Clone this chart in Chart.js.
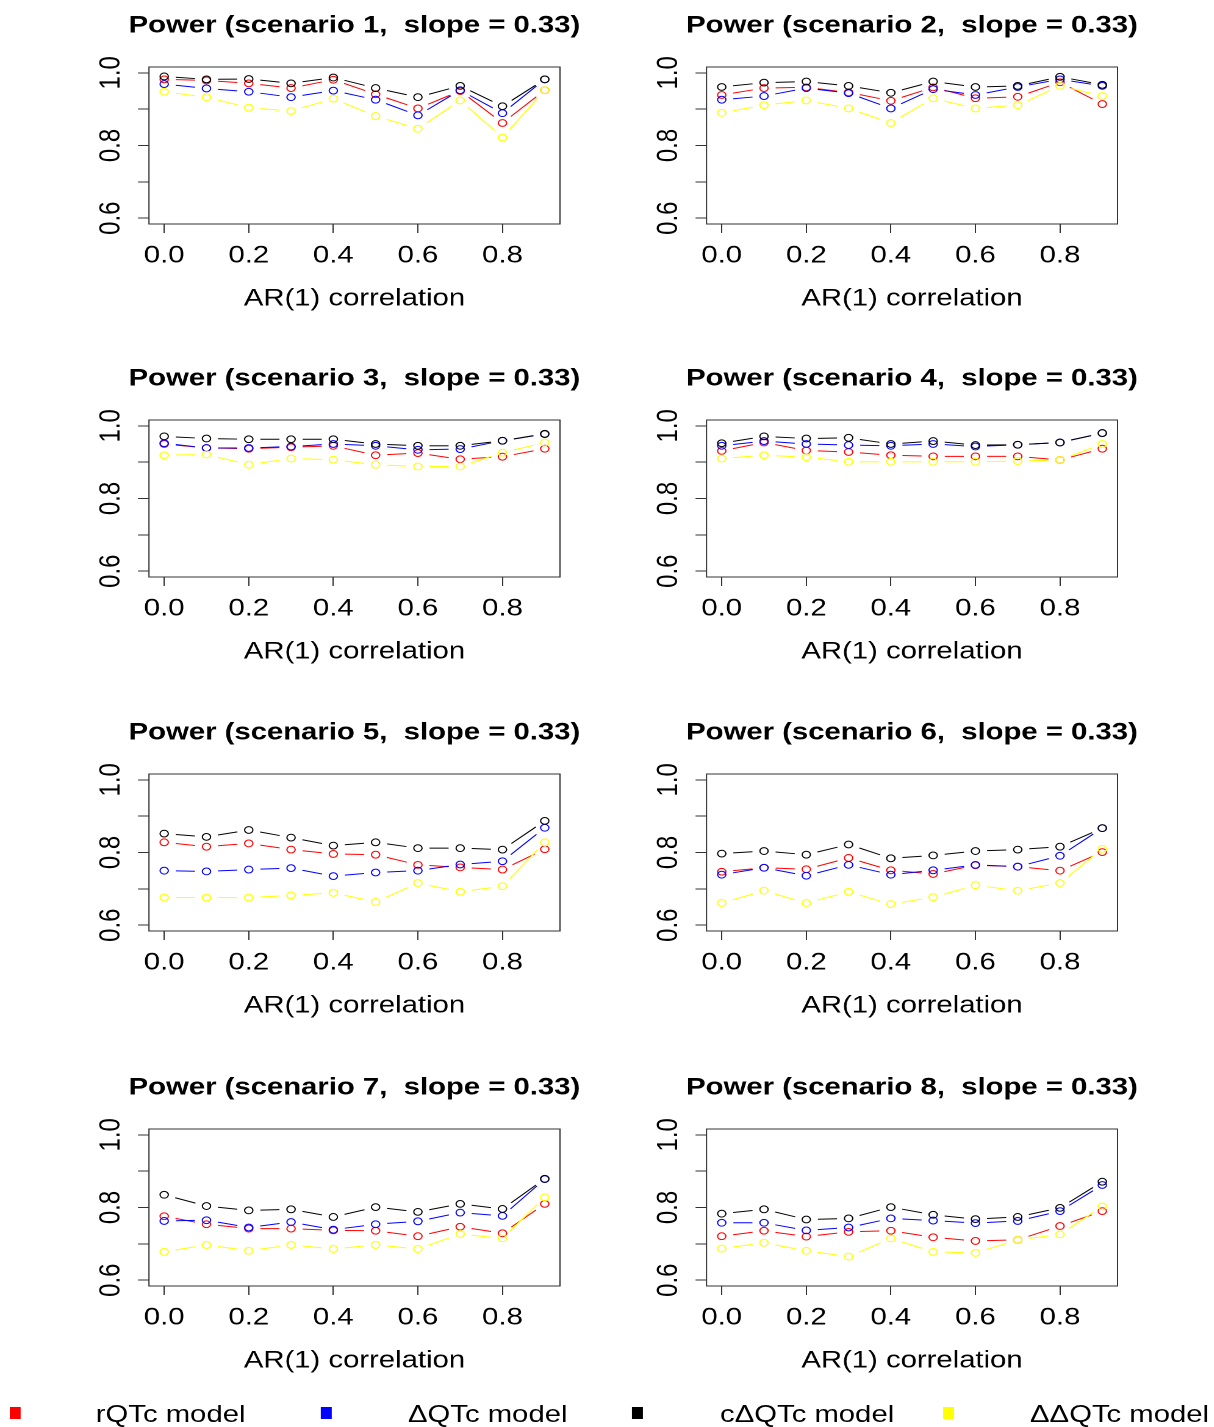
<!DOCTYPE html>
<html>
<head>
<meta charset="utf-8">
<script src="https://cdn.jsdelivr.net/npm/chart.js@4.4.0/dist/chart.umd.min.js"></script>
<style>
  body { margin: 0; background: #fff; overflow: hidden; }
  #wrap { position: absolute; left: 0; top: 0; width: 995px; height: 1427px;
          transform: scaleX(1.22); transform-origin: 0 0; }
  canvas { position: absolute; }
  .sq { position: absolute; width: 9px; height: 12px; top: 1407px; }
  .lt { position: absolute; top: 1402px; font: 24px "Liberation Sans", Arial, sans-serif;
        line-height: 24px; white-space: nowrap; color: #000; }
</style>
</head>
<body>
<div id="wrap"></div>
<script>
// AR(1) correlation values on the x axis
var arCorr = [0.0, 0.1, 0.2, 0.3, 0.4, 0.5, 0.6, 0.7, 0.8, 0.9];
var xTicks = [0.0, 0.2, 0.4, 0.6, 0.8];
var yTicks = [0.6, 0.7, 0.8, 0.9, 1.0];
var yLabelled = [0.6, 0.8, 1.0];

var modelNames = ['rQTc model', 'ΔQTc model', 'cΔQTc model', 'ΔΔQTc model'];
var modelColors = ['#ff0000', '#0000ff', '#000000', '#ffff00'];

// one row per scenario 1..8
var rQTc = [
  [0.982, 0.979, 0.971, 0.958, 0.981, 0.941, 0.902, 0.950, 0.862, 0.952],
  [0.939, 0.958, 0.960, 0.946, 0.923, 0.960, 0.930, 0.934, 0.974, 0.914],
  [0.950, 0.939, 0.937, 0.941, 0.945, 0.919, 0.925, 0.908, 0.915, 0.937],
  [0.931, 0.954, 0.932, 0.928, 0.919, 0.916, 0.916, 0.916, 0.906, 0.937],
  [0.828, 0.816, 0.825, 0.808, 0.796, 0.794, 0.766, 0.759, 0.753, 0.809],
  [0.747, 0.758, 0.754, 0.785, 0.751, 0.741, 0.765, 0.761, 0.750, 0.801],
  [0.776, 0.754, 0.742, 0.742, 0.737, 0.736, 0.721, 0.747, 0.729, 0.810],
  [0.721, 0.736, 0.720, 0.733, 0.736, 0.718, 0.708, 0.711, 0.749, 0.790]
];
var dQTc = [
  [0.969, 0.957, 0.948, 0.933, 0.951, 0.926, 0.883, 0.952, 0.889, 0.982],
  [0.926, 0.936, 0.958, 0.944, 0.902, 0.955, 0.939, 0.961, 0.982, 0.964],
  [0.952, 0.939, 0.939, 0.943, 0.950, 0.945, 0.934, 0.936, 0.959, 0.977],
  [0.945, 0.958, 0.950, 0.947, 0.945, 0.950, 0.943, 0.948, 0.954, 0.980],
  [0.750, 0.748, 0.753, 0.757, 0.735, 0.745, 0.750, 0.767, 0.776, 0.868],
  [0.739, 0.758, 0.736, 0.766, 0.739, 0.751, 0.766, 0.761, 0.791, 0.867],
  [0.763, 0.765, 0.745, 0.760, 0.739, 0.754, 0.762, 0.786, 0.777, 0.878],
  [0.758, 0.758, 0.737, 0.745, 0.770, 0.764, 0.757, 0.763, 0.790, 0.862]
];
var cdQTc = [
  [0.990, 0.982, 0.983, 0.971, 0.987, 0.958, 0.933, 0.964, 0.908, 0.982],
  [0.961, 0.973, 0.976, 0.964, 0.945, 0.976, 0.961, 0.964, 0.989, 0.967],
  [0.971, 0.965, 0.963, 0.963, 0.963, 0.950, 0.945, 0.945, 0.959, 0.978],
  [0.952, 0.971, 0.965, 0.967, 0.950, 0.958, 0.947, 0.948, 0.954, 0.980],
  [0.852, 0.843, 0.862, 0.841, 0.819, 0.828, 0.812, 0.812, 0.808, 0.887],
  [0.797, 0.804, 0.794, 0.822, 0.784, 0.792, 0.804, 0.808, 0.816, 0.867],
  [0.835, 0.804, 0.792, 0.795, 0.774, 0.801, 0.788, 0.810, 0.796, 0.879],
  [0.783, 0.795, 0.767, 0.770, 0.801, 0.780, 0.768, 0.774, 0.799, 0.871]
];
var ddQTc = [
  [0.948, 0.933, 0.904, 0.895, 0.929, 0.881, 0.846, 0.924, 0.822, 0.952],
  [0.890, 0.911, 0.924, 0.902, 0.862, 0.930, 0.902, 0.911, 0.964, 0.936],
  [0.919, 0.921, 0.893, 0.910, 0.907, 0.893, 0.888, 0.888, 0.926, 0.954],
  [0.910, 0.919, 0.914, 0.901, 0.901, 0.901, 0.901, 0.903, 0.906, 0.950],
  [0.676, 0.676, 0.676, 0.682, 0.689, 0.664, 0.716, 0.692, 0.707, 0.828],
  [0.661, 0.695, 0.661, 0.692, 0.658, 0.677, 0.710, 0.695, 0.716, 0.810],
  [0.678, 0.697, 0.681, 0.697, 0.686, 0.697, 0.686, 0.727, 0.715, 0.828],
  [0.687, 0.703, 0.681, 0.665, 0.715, 0.678, 0.675, 0.711, 0.726, 0.803]
];

Chart.defaults.font.family = '"Liberation Sans", Arial, sans-serif';
Chart.defaults.font.size = 24;
Chart.defaults.color = '#000';

// R type="b": line pieces that stop short of the circles
var gapLines = {
  id: 'gapLines',
  beforeDatasetDraw: function(chart, args) {
    var pts = args.meta.data;
    var ctx = chart.ctx;
    var gap = 9.5;
    ctx.save();
    ctx.strokeStyle = chart.data.datasets[args.index].borderColor;
    ctx.lineWidth = 1;
    for (var i = 0; i < pts.length - 1; i++) {
      var a = pts[i], b = pts[i + 1];
      var dx = b.x - a.x, dy = b.y - a.y;
      var len = Math.sqrt(dx * dx + dy * dy);
      if (len <= 2 * gap) continue;
      var ux = dx / len, uy = dy / len;
      ctx.beginPath();
      ctx.moveTo(a.x + ux * gap, a.y + uy * gap);
      ctx.lineTo(b.x - ux * gap, b.y - uy * gap);
      ctx.stroke();
    }
    ctx.restore();
  }
};

var frameBox = {
  id: 'frameBox',
  afterDraw: function(chart) {
    var c = chart.chartArea, ctx = chart.ctx;
    ctx.save();
    ctx.strokeStyle = '#333';
    ctx.lineWidth = 1;
    ctx.strokeRect(c.left, c.top, c.right - c.left, c.bottom - c.top);
    ctx.restore();
  }
};

var wrap = document.getElementById('wrap');
var rowTops = [0, 353, 707, 1062];
var colLefts = [0, 457.4];
var allSeries = [rQTc, dQTc, cdQTc, ddQTc];

for (var s = 0; s < 8; s++) {
  var cv = document.createElement('canvas');
  cv.width = 581;
  cv.height = 354;
  cv.style.left = colLefts[s % 2] + 'px';
  cv.style.top = rowTops[Math.floor(s / 2)] + 'px';
  wrap.appendChild(cv);

  var datasets = [];
  for (var m = 0; m < 4; m++) {
    datasets.push({
      label: modelNames[m],
      data: arCorr.map(function(x, i) { return { x: x, y: allSeries[m][s][i] }; }),
      showLine: false,
      borderColor: modelColors[m],
      backgroundColor: 'rgba(0,0,0,0)',
      pointRadius: 3.4,
      pointBorderWidth: 1,
      order: 4 - m
    });
  }

  new Chart(cv.getContext('2d'), {
    type: 'scatter',
    data: { datasets: datasets },
    plugins: [gapLines, frameBox],
    options: {
      responsive: false,
      animation: false,
      devicePixelRatio: 2,
      layout: { padding: 0 },
      plugins: {
        legend: { display: false },
        tooltip: { enabled: false },
        title: {
          display: true,
          text: 'Power (scenario ' + (s + 1) + ',  slope = 0.33)',
          font: { size: 24, weight: 'bold' },
          color: '#000',
          padding: { top: 11.6, bottom: 26.6 }
        }
      },
      scales: {
        x: {
          type: 'linear',
          min: -0.036,
          max: 0.936,
          afterBuildTicks: function(sc) { sc.ticks = xTicks.map(function(v) { return { value: v }; }); },
          afterFit: function(sc) { sc.height = 130; },
          grid: { drawOnChartArea: false, drawTicks: true, tickLength: 9, color: '#333' },
          border: { display: false },
          ticks: {
            autoSkip: false, maxRotation: 0, padding: 8.5, color: '#000',
            callback: function(v) { return Number(v).toFixed(1); }
          },
          title: {
            display: true, text: 'AR(1) correlation', color: '#000',
            font: { size: 24 }, padding: { top: 0, bottom: 40.6 }
          }
        },
        y: {
          min: 0.584,
          max: 1.016,
          afterBuildTicks: function(sc) { sc.ticks = yTicks.map(function(v) { return { value: v }; }); },
          afterFit: function(sc) { sc.width = 122.1; },
          grid: { drawOnChartArea: false, drawTicks: true, tickLength: 9, color: '#333' },
          border: { display: false },
          ticks: {
            autoSkip: false, minRotation: 90, maxRotation: 90, crossAlign: 'center',
            padding: 5, color: '#000',
            callback: function(v) {
              var ok = yLabelled.some(function(t) { return Math.abs(t - v) < 1e-6; });
              return ok ? Number(v).toFixed(1) : '';
            }
          }
        },
        // empty right margin so the title centres over the plot box
        yRight: {
          position: 'right',
          min: 0.584,
          max: 1.016,
          afterFit: function(sc) { sc.width = 122; },
          grid: { display: false },
          border: { display: false },
          ticks: { display: false }
        }
      }
    }
  });
}

// legend row along the bottom
var sqLefts = [8.2, 263.1, 518, 773];
var txtLefts = [78.5, 334.4, 590.2, 844.3];
for (var k = 0; k < 4; k++) {
  var sq = document.createElement('div');
  sq.className = 'sq';
  sq.style.left = sqLefts[k] + 'px';
  sq.style.background = modelColors[k];
  wrap.appendChild(sq);
  var t = document.createElement('div');
  t.className = 'lt';
  t.style.left = txtLefts[k] + 'px';
  t.textContent = modelNames[k];
  wrap.appendChild(t);
}
</script>
</body>
</html>
